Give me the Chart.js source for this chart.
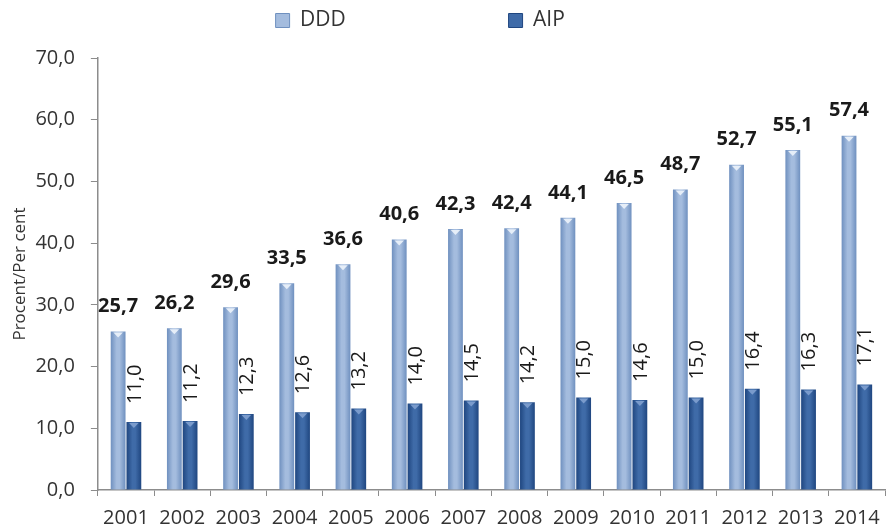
<!DOCTYPE html>
<html>
<head>
<meta charset="utf-8">
<script src="https://cdn.jsdelivr.net/npm/chart.js@4.4.1/dist/chart.umd.min.js"></script>
<style>
  html, body { margin: 0; padding: 0; background: #fff; }
  #wrap { width: 890px; height: 529px; }
</style>
</head>
<body>
<div id="wrap"><canvas id="c" width="890" height="529"></canvas></div>
<script>
// data
const years = ['2001','2002','2003','2004','2005','2006','2007','2008','2009','2010','2011','2012','2013','2014'];
const dddValues = [25.7, 26.2, 29.6, 33.5, 36.6, 40.6, 42.3, 42.4, 44.1, 46.5, 48.7, 52.7, 55.1, 57.4];
const aipValues = [11.0, 11.2, 12.3, 12.6, 13.2, 14.0, 14.5, 14.2, 15.0, 14.6, 15.0, 16.4, 16.3, 17.1];
const seriesNames = ['DDD', 'AIP'];
const yTicks = [0, 10, 20, 30, 40, 50, 60, 70];

const FONT = "'Open Sans', 'Noto Sans', sans-serif";
const CAT_PCT = 0.56;
const BAR_PCT = 0.94;

// cylinder-ish look: darker edges, lighter middle
const SHADES = [
  { edge:'#6f90bf', mid:'#a4bcde', cap:'#e6eef8' },
  { edge:'#1f4680', mid:'#3f6ba8', cap:'#7a9bcc' },
];

const fmt = v => v.toFixed(1).replace('.', ',');

function barFill(ds) {
  return ctx => {
    const chart = ctx.chart;
    const x = chart.scales && chart.scales.x;
    const s = SHADES[ds];
    if (ctx.dataIndex === undefined || !x || !x.width) return s.mid;
    const slot = x.width / years.length * CAT_PCT / 2;
    const w = slot * BAR_PCT;
    const center = x.getPixelForTick(ctx.dataIndex) + (ds === 0 ? -slot/2 : slot/2);
    const g = chart.ctx.createLinearGradient(center - w/2, 0, center + w/2, 0);
    g.addColorStop(0, s.edge);
    g.addColorStop(0.4, s.mid);
    g.addColorStop(0.6, s.mid);
    g.addColorStop(1, s.edge);
    return g;
  };
}

// a bit more room under the legend
const legendGap = {
  id: 'legendGap',
  afterInit(chart) {
    const lg = chart.legend;
    if (!lg) return;
    const fit = lg.fit.bind(lg);
    lg.fit = function() { fit(); this.height += 17; };
  }
};

// small triangle caps + value labels
const barDecor = {
  id: 'barDecor',
  afterDatasetsDraw(chart) {
    const c = chart.ctx;
    chart.data.datasets.forEach((ds, di) => {
      const meta = chart.getDatasetMeta(di);
      meta.data.forEach((el, i) => {
        const w = el.width;
        c.save();
        c.fillStyle = SHADES[di].cap;
        c.beginPath();
        c.moveTo(el.x - w*0.32, el.y + 1);
        c.lineTo(el.x + w*0.32, el.y + 1);
        c.lineTo(el.x, el.y + 6);
        c.closePath();
        c.fill();
        c.restore();

        const txt = fmt(ds.data[i]);
        c.save();
        c.fillStyle = '#1a1a1a';
        if (di === 0) {
          c.font = 'bold 20px ' + FONT;
          c.textAlign = 'center';
          c.textBaseline = 'middle';
          c.fillText(txt, el.x, el.y - 25);
        } else {
          c.font = '20px ' + FONT;
          c.translate(el.x, el.y - 18);
          c.rotate(-Math.PI / 2);
          c.textAlign = 'left';
          c.textBaseline = 'middle';
          c.fillText(txt, 0, 1);
        }
        c.restore();
      });
    });
  }
};

new Chart(document.getElementById('c'), {
  type: 'bar',
  data: {
    labels: years,
    datasets: [
      { label: seriesNames[0], data: dddValues, backgroundColor: barFill(0),
        categoryPercentage: CAT_PCT, barPercentage: BAR_PCT },
      { label: seriesNames[1], data: aipValues, backgroundColor: barFill(1),
        categoryPercentage: CAT_PCT, barPercentage: BAR_PCT },
    ]
  },
  options: {
    responsive: false,
    animation: false,
    layout: { padding: { top: 0, left: 10, right: 5, bottom: 0 } },
    plugins: {
      tooltip: { enabled: false },
      legend: {
        position: 'top',
        labels: {
          font: { family: FONT, size: 21 },
          color: '#333',
          boxWidth: 14, boxHeight: 14,
          padding: 10,
          generateLabels(chart) {
            return chart.data.datasets.map((ds, i) => ({
              text: i === 0 ? ds.label + ' '.repeat(28) : ds.label + ' '.repeat(10),
              fillStyle: SHADES[i].mid,
              strokeStyle: SHADES[i].edge,
              lineWidth: 1,
              fontColor: '#333',
              datasetIndex: i,
            }));
          }
        }
      }
    },
    scales: {
      x: {
        grid: { drawOnChartArea: false, offset: true, color: '#8c8c8c', tickLength: 6 },
        border: { color: '#8c8c8c', width: 1.5 },
        ticks: { font: { family: FONT, size: 20 }, color: '#333', padding: 10, maxRotation: 0 },
        afterFit(axis) { axis.height = 39; },
      },
      y: {
        min: 0, max: 70,
        afterBuildTicks(axis) { axis.ticks = yTicks.map(v => ({ value: v })); },
        afterFit(axis) { axis.width -= 17; },
        grid: { drawOnChartArea: false, color: '#8c8c8c', tickLength: 7 },
        border: { color: '#8c8c8c', width: 1.5 },
        ticks: { font: { family: FONT, size: 20 }, color: '#333', padding: 16,
                 callback: v => fmt(v) },
        title: { display: true, text: 'Procent/Per cent', font: { family: FONT, size: 17 },
                 color: '#333', padding: { top: 0, bottom: 6 } },
      }
    }
  },
  plugins: [legendGap, barDecor]
});
</script>
</body>
</html>
